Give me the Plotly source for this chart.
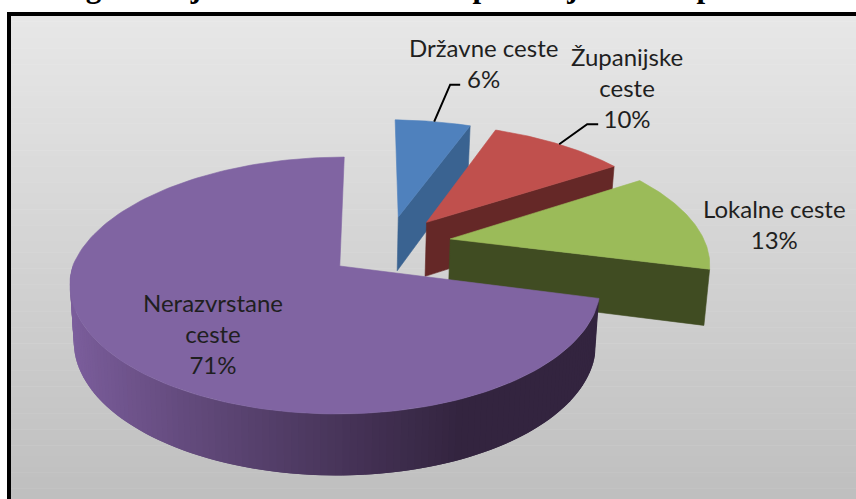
import math
import plotly.graph_objects as go

# ---- data ----
categories = ["Državne ceste", "Županijske ceste", "Lokalne ceste", "Nerazvrstane ceste"]
values = [6, 10, 13, 71]
label_texts = ["Državne ceste", "Županijske<br>ceste", "Lokalne ceste", "Nerazvrstane<br>ceste"]
title_text = "Kategorizacija cestovne mreže na području Grada prema vlasništvu"

# ---- styling ----
top_colors = ["#4f81bd", "#c0504d", "#9bbb59", "#8064a2"]
wall_colors = ["#3a6391", "#652827", "#404c22", "#33243f"]
explode = [(0.285, 0.415), (0.397, 0.367), (0.482, 0.223), (0.045, 0.0)]
angle_trim = [(1.5, 0.0), (0, 0), (0, 0), (0, 0)]
label_pos = [(483, 63), (627, 87), (774, 224), (213, 333)]
W, H = 856, 499
CX, CY, F, G, D = 328, 266, 1727, 827, 6.59


def project(u, v, sx=0.0):
    return CX + F * u / (D + v) + sx, CY - G * v / (D + v)


def wall(v):
    return 56 - 5.5 * v


def lower(u, v, sx=0.0):
    x, y = project(u, v)
    return CX + (x - CX) * 0.985 + sx, y + wall(v)


def purple_shift(v):
    return -5 + 11 * max(v, 0)


def rim(i, a0, a1, n=60):
    """Rim points from clockwise angle a0 to a1 (degrees from north)."""
    ox, oy = explode[i]
    out = []
    for k in range(n + 1):
        a = math.radians(a0 + (a1 - a0) * k / n)
        out.append((ox + math.sin(a), oy + math.cos(a)))
    return out


def poly(fig, pts, color, lw=0.6):
    xs = [p[0] for p in pts] + [pts[0][0]]
    ys = [p[1] for p in pts] + [pts[0][1]]
    fig.add_trace(go.Scatter(x=xs, y=ys, mode="lines", fill="toself", fillcolor=color,
                             line=dict(color=color, width=lw), hoverinfo="skip", showlegend=False))


def mix(c0, c1, t):
    a = [int(c0[j:j + 2], 16) for j in (1, 3, 5)]
    b = [int(c1[j:j + 2], 16) for j in (1, 3, 5)]
    return "#%02x%02x%02x" % tuple(round(a[j] + (b[j] - a[j]) * t) for j in range(3))


fig = go.Figure()

# cumulative angles
ang = [0]
for val in values:
    ang.append(ang[-1] + val / sum(values) * 360)

# blue, red, green: cut face and top
for i in range(3):
    ox, oy = explode[i]
    r = rim(i, ang[i] + angle_trim[i][0], ang[i + 1] + angle_trim[i][1])
    eu, ev = r[-1]
    face = [project(ox, oy), project(eu, ev), lower(eu, ev), lower(ox, oy)]
    poly(fig, face, wall_colors[i])
    poly(fig, [project(ox, oy)] + [project(u, v) for u, v in r], top_colors[i])

# purple: shaded outer wall, then top
ox, oy = explode[3]
start = ang[3]
end = 270
steps = 120
pts = rim(3, start, end, steps)
for k in range(steps):
    p0, p1 = pts[k], pts[min(k + 2, steps)]
    s0, s1 = purple_shift(p0[1]), purple_shift(p1[1])
    x_mid = project(*p0)[0]
    t = min(max((x_mid - 70) / 400, 0), 1)
    col = mix("#7d5f9e", wall_colors[3], t ** 0.9)
    poly(fig, [project(*p0, s0), project(*p1, s1), lower(*p1, s1), lower(*p0, s0)], col, lw=0)
full = rim(3, ang[3], 360, 160)
poly(fig, [project(ox, oy)] + [project(u, v, purple_shift(v)) for u, v in full], top_colors[3])


# leader lines
def leader(i, frac, dx1, dy1, dx2):
    a = ang[i] + (ang[i + 1] - ang[i]) * frac
    u = explode[i][0] + math.sin(math.radians(a))
    v = explode[i][1] + math.cos(math.radians(a))
    x0, y0 = project(u, v)
    fig.add_trace(go.Scatter(x=[x0, x0 + dx1, x0 + dx1 + dx2], y=[y0, y0 + dy1, y0 + dy1],
                             mode="lines", line=dict(color="#000000", width=2),
                             hoverinfo="skip", showlegend=False))


leader(0, 0.55, 16, -37, 10)
leader(1, 0.5, 28, -20, 11)

# labels
annotations = []
for i in range(4):
    annotations.append(dict(x=label_pos[i][0], y=label_pos[i][1], xref="x", yref="y", showarrow=False,
                            text=f"{label_texts[i]}<br>{values[i]}%", align="center",
                            font=dict(family="Lato", size=24, color="#1f1f1f")))
annotations.append(dict(x=20, y=6, xref="x", yref="y", xanchor="left", yanchor="bottom", showarrow=False,
                        text="<b>" + title_text + "</b>", align="left",
                        font=dict(family="Liberation Serif", size=31, color="#000000")))

# background gradient and frame
shapes = []
N = 90
for k in range(N):
    y0 = 16 + (H - 16) * k / N
    y1 = 16 + (H - 16) * (k + 1) / N
    shapes.append(dict(type="rect", xref="x", yref="y", x0=11, x1=W, y0=y0, y1=y1 + 0.5, layer="below",
                       fillcolor=mix("#e7e7e7", "#bfbfbf", k / (N - 1)), line=dict(width=0)))
shapes.append(dict(type="rect", xref="x", yref="y", x0=7, x1=W, y0=12, y1=16, layer="below",
                   fillcolor="#000000", line=dict(width=0)))
shapes.append(dict(type="rect", xref="x", yref="y", x0=7, x1=11, y0=12, y1=H, layer="below",
                   fillcolor="#000000", line=dict(width=0)))

fig.update_layout(
    width=W, height=H, margin=dict(l=0, r=0, t=0, b=0), autosize=False,
    paper_bgcolor="#ffffff", plot_bgcolor="#ffffff", showlegend=False,
    xaxis=dict(range=[0, W], visible=False, fixedrange=True),
    yaxis=dict(range=[H, 0], visible=False, fixedrange=True),
    shapes=shapes, annotations=annotations,
)
fig.write_html("out.html", config=dict(displayModeBar=False),
               post_script="document.body.style.margin='0';document.body.style.overflow='hidden';")
